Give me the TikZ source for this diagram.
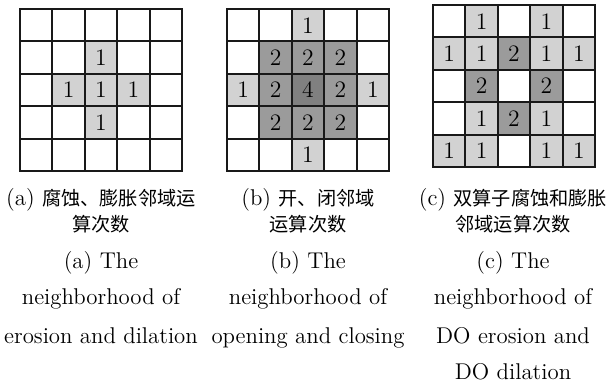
\documentclass[tikz,border=0pt]{standalone}
\usepackage{fontspec}
\newfontfamily\cjk{Noto Sans CJK SC}
\definecolor{lightg}{HTML}{D2D2D2}
\definecolor{midg}{HTML}{9B9B9B}
\definecolor{darkg}{HTML}{808080}
\tikzset{
  cellbox/.style={minimum size=16.2pt, inner sep=0pt, outer sep=0pt, font=\fontsize{11.8}{13}\selectfont},
  lt/.style={cellbox, fill=lightg},
  md/.style={cellbox, fill=midg},
  dk/.style={cellbox, fill=darkg},
  gridline/.style={line width=1pt, draw=black!90},
  frame/.style={line width=1.3pt, draw=black!90},
  captext/.style={font=\fontsize{11.4}{13}\selectfont, inner sep=0pt, anchor=base}
}
\newcommand{\gridlines}{%
  \foreach \i in {1,...,4} {
    \draw[gridline] ({\i*32.4},0) -- ({\i*32.4},162);
    \draw[gridline] (0,{\i*32.4}) -- (162,{\i*32.4});
  }
  \draw[frame] (0,0) rectangle (162,162);
}
\newcommand{\zhtext}[1]{{\fontsize{9.6}{12}\selectfont\cjk #1}}
\begin{document}
\begin{tikzpicture}[x=0.5pt,y=-0.5pt]
\useasboundingbox (0,0) rectangle (610,383);
% grid (a)
\begin{scope}[shift={(20,9)}]
  \foreach \r/\c/\v in {1/2/1, 2/1/1, 2/2/1, 2/3/1, 3/2/1}
    \node[lt] (a\r\c) at ({(\c+0.5)*32.4},{(\r+0.5)*32.4}) {\v};
  \gridlines
\end{scope}
% grid (b)
\begin{scope}[shift={(227,9)}]
  \foreach \r/\c/\v in {0/2/1, 2/0/1, 2/4/1, 4/2/1}
    \node[lt] (b\r\c) at ({(\c+0.5)*32.4},{(\r+0.5)*32.4}) {\v};
  \foreach \r/\c/\v in {1/1/2, 1/2/2, 1/3/2, 2/1/2, 2/3/2, 3/1/2, 3/2/2, 3/3/2}
    \node[md] (b\r\c) at ({(\c+0.5)*32.4},{(\r+0.5)*32.4}) {\v};
  \node[dk] (b22) at ({2.5*32.4},{2.5*32.4}) {4};
  \gridlines
\end{scope}
% grid (c)
\begin{scope}[shift={(433,5)}]
  \foreach \r/\c/\v in {0/1/1, 0/3/1, 1/0/1, 1/1/1, 1/3/1, 1/4/1, 3/1/1, 3/3/1, 4/0/1, 4/1/1, 4/3/1, 4/4/1}
    \node[lt] (c\r\c) at ({(\c+0.5)*32.4},{(\r+0.5)*32.4}) {\v};
  \foreach \r/\c/\v in {1/2/2, 2/1/2, 2/3/2, 3/2/2}
    \node[md] (c\r\c) at ({(\c+0.5)*32.4},{(\r+0.5)*32.4}) {\v};
  \gridlines
\end{scope}
% captions (a)
\node[captext] (capa1) at (101,206) {(a) \zhtext{腐蚀、膨胀邻域运}};
\node[captext] (capa2) at (101,232) {\zhtext{算次数}};
\node[captext] (capa3) at (101,269) {(a) The};
\node[captext] (capa4) at (101,305) {neighborhood of};
\node[captext] (capa5) at (101,344) {erosion and dilation};
% captions (b)
\node[captext] (capb1) at (308,206) {(b) \zhtext{开、闭邻域}};
\node[captext] (capb2) at (308,232) {\zhtext{运算次数}};
\node[captext] (capb3) at (308,269) {(b) The};
\node[captext] (capb4) at (308,305) {neighborhood of};
\node[captext] (capb5) at (308,344) {opening and closing};
% captions (c)
\node[captext] (capc1) at (513,206) {(c) \zhtext{双算子腐蚀和膨胀}};
\node[captext] (capc2) at (513,232) {\zhtext{邻域运算次数}};
\node[captext] (capc3) at (513,269) {(c) The};
\node[captext] (capc4) at (513,305) {neighborhood of};
\node[captext] (capc5) at (513,344) {DO erosion and};
\node[captext] (capc6) at (513,380) {DO dilation};
\end{tikzpicture}
\end{document}
